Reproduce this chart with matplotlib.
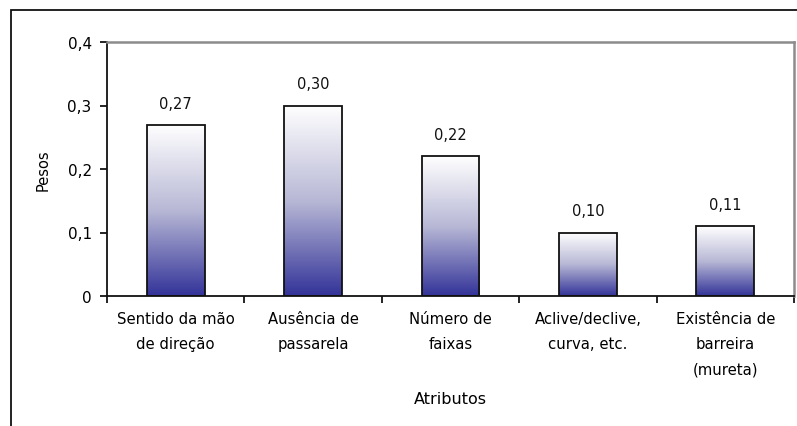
import numpy as np
import matplotlib
matplotlib.use("Agg")
import matplotlib.pyplot as plt
from matplotlib.colors import LinearSegmentedColormap
from matplotlib.patches import Rectangle

categories = [
    "Sentido da mão\nde direção",
    "Ausência de\npassarela",
    "Número de\nfaixas",
    "Aclive/declive,\ncurva, etc.",
    "Existência de\nbarreira\n(mureta)",
]
pesos = [0.27, 0.30, 0.22, 0.10, 0.11]
value_labels = ["0,27", "0,30", "0,22", "0,10", "0,11"]
y_ticks = [0, 0.1, 0.2, 0.3, 0.4]
y_tick_labels = ["0", "0,1", "0,2", "0,3", "0,4"]

plt.rcParams["font.family"] = ["DejaVu Sans"]

W, H = 797, 427
fig = plt.figure(figsize=(W / 100, H / 100), dpi=100)
fig.patch.set_facecolor("white")

# outer chart frame (right and bottom edges run past the canvas)
fig.patches.append(Rectangle((11 / W, -0.05), 1.0, (H - 11) / H + 0.05,
                             transform=fig.transFigure, fill=False,
                             edgecolor="#111111", linewidth=1.3))

left, right, top, bottom = 107, 794, 43, 297
ax = fig.add_axes([left / W, 1 - bottom / H, (right - left) / W, (bottom - top) / H])

x = np.arange(len(categories))
width = 0.42

# white at the top of each bar fading to deep blue at the base
cmap = LinearSegmentedColormap.from_list("grad", ["#333399", "#b8b8d6", "#ffffff"])
grad = np.linspace(0, 1, 256).reshape(-1, 1)

bars = ax.bar(x, pesos, width=width, facecolor="none", edgecolor="#111111",
              linewidth=1.3, zorder=3)
for b in bars:
    x0, w, h = b.get_x(), b.get_width(), b.get_height()
    ax.imshow(grad, cmap=cmap, extent=(x0, x0 + w, 0, h), aspect="auto",
              origin="lower", zorder=2, interpolation="bilinear")

for xi, v, lab in zip(x, pesos, value_labels):
    ax.annotate(lab, (xi, v), xytext=(0, 15.5), textcoords="offset points",
                ha="center", va="center", fontsize=10.5, color="#111111")

ax.set_xlim(-0.5, len(categories) - 0.5)
ax.set_ylim(0, 0.4)
ax.set_yticks(y_ticks)
ax.set_yticklabels(y_tick_labels, fontsize=11)
ax.set_xticks(x)
ax.set_xticklabels(categories, fontsize=10.7, linespacing=1.85, va="top")
ax.tick_params(axis="x", length=0, pad=11)
ax.set_xticks(np.arange(len(categories) + 1) - 0.5, minor=True)
ax.tick_params(axis="x", which="minor", length=5, width=1.2, direction="out")
ax.tick_params(axis="y", length=5, width=1.2, direction="out", pad=6)

for s in ["left", "bottom"]:
    ax.spines[s].set_color("#111111")
    ax.spines[s].set_linewidth(1.3)
for s in ["top", "right"]:
    ax.spines[s].set_color("#8c8c8c")
    ax.spines[s].set_linewidth(1.8)

ax.set_ylabel("Pesos", fontsize=10.5, labelpad=12)
fig.text(450 / W, 1 - 400 / H, "Atributos", ha="center", va="center", fontsize=11.5)

fig.savefig("out.png", dpi=100)
